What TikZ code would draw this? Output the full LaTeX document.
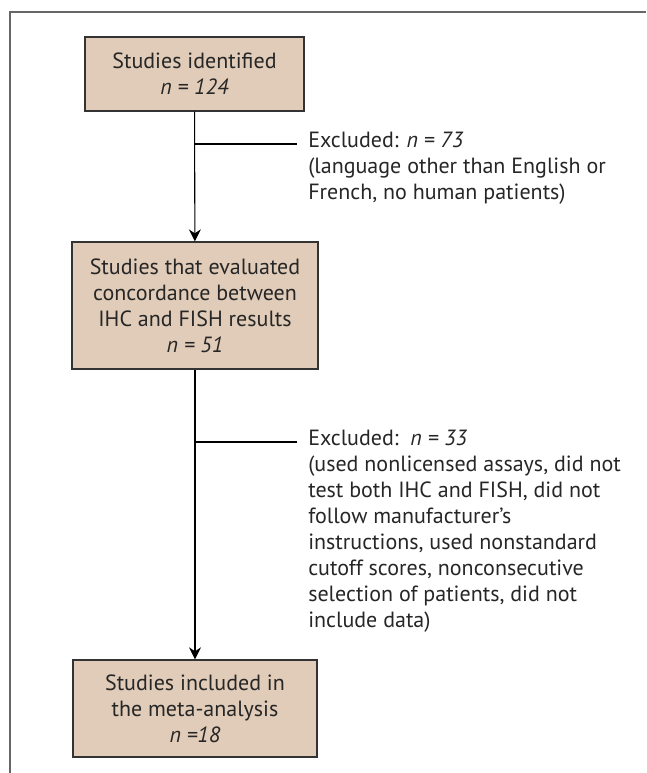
\documentclass[tikz,border=0pt]{standalone}
\usepackage{fontspec}
\setmainfont{PT Sans}
\usepackage{tikz}
\usetikzlibrary{arrows.meta}
\definecolor{boxtan}{RGB}{224,204,184}
\definecolor{boxline}{RGB}{51,51,51}
\definecolor{frameline}{RGB}{102,102,102}
\tikzset{
    every node/.style={font=\fontsize{16.5pt}{19.5pt}\selectfont, text=black!85},
    stagebox/.style={rectangle, draw=boxline, line width=1pt, fill=boxtan, align=center, inner sep=0mm},
    exclnote/.style={rectangle, draw=none, align=left, anchor=north west, inner sep=0mm},
    flowarrow/.style={draw=black, line width=0.8pt, -{Stealth[length=9pt, width=9pt, inset=3pt]}},
    flowline/.style={draw=black, line width=0.8pt}
}

\begin{document}
\begin{tikzpicture}[x=0.75pt, y=-0.75pt]
        \useasboundingbox (0,0) rectangle (646,773);
        \draw [frameline, line width=1.2pt] (10,773) -- (10,12) -- (646,12);
        \node (s1) [stagebox, minimum width=164.25pt, minimum height=55.5pt] at (194.5,74) {Studies identified\\\textit{n = 124}};
        \node (s2) [stagebox, minimum width=184.5pt, minimum height=95.25pt] at (195,305.5) {Studies that evaluated\\concordance between\\IHC and FISH results\\\textit{n = 51}};
        \node (s3) [stagebox, minimum width=183pt, minimum height=72.75pt] at (195,708.5) {Studies included in\\the meta-analysis\\\textit{n =18}};
        \node (x1) [exclnote] at (308,132) {Excluded: \textit{n = 73}\\(language other than English or\\French, no human patients)};
        \node (x2) [exclnote] at (308,430) {Excluded:\ \ \textit{n = 33}\\(used nonlicensed assays, did not\\test both IHC and FISH, did not\\follow manufacturer’s\\instructions, used nonstandard\\cutoff scores, nonconsecutive\\selection of patients, did not\\include data)};
        \coordinate (j1) at (195,144);
        \coordinate (e1) at (297,144);
        \coordinate (j2) at (195,442);
        \coordinate (e2) at (297,442);
        \draw [flowarrow] (s1) -- (s2);
        \draw [flowarrow] (s2) -- (s3);
        \draw [flowline] (j1) -- (e1);
        \draw [flowline] (j2) -- (e2);
\end{tikzpicture}
\end{document}
